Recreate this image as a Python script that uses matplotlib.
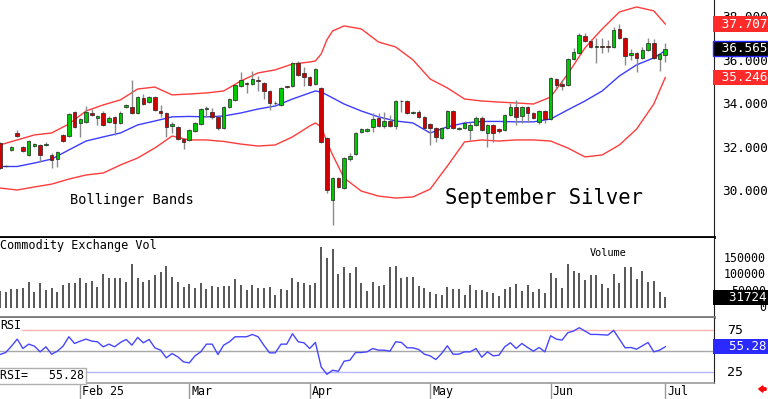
import numpy as np
import matplotlib.pyplot as plt
from matplotlib.patches import FancyArrow

# daily bars, Jan 13 .. Jul 1 (September silver)
opens = [32.24, 31.17, 31.92, 32.70, 32.06, 31.69, 32.10, 32.15, 32.17, 31.69,
         31.50, 32.61, 32.56, 33.66, 33.16, 33.20, 33.62, 33.39, 33.62, 33.20,
         33.44, 33.16, 33.89, 33.89, 33.62, 34.31, 34.12, 34.35, 33.71, 33.62,
         33.02, 32.97, 32.42, 32.38, 32.79, 33.11, 33.80, 33.66, 33.44, 32.93,
         33.89, 34.22, 34.86, 35.00, 34.95, 35.14, 35.00, 34.63, 34.06, 33.99,
         34.84, 34.86, 35.92, 35.46, 35.27, 34.95, 34.77, 32.47, 29.62, 30.63,
         30.17, 31.50, 31.73, 32.74, 32.79, 32.97, 33.39, 33.02, 33.25, 33.02,
         34.15, 34.17, 33.62, 33.66, 33.44, 33.11, 32.93, 32.47, 32.93, 33.71,
         32.88, 32.93, 32.84, 33.07, 33.39, 32.70, 33.07, 32.88, 32.84, 33.53,
         33.89, 33.48, 33.89, 33.62, 33.20, 33.71, 33.34, 35.18, 34.95, 34.91,
         36.10, 36.38, 37.16, 36.93, 36.65, 36.70, 36.70, 36.65, 37.48, 37.07,
         36.28, 36.38, 36.15, 36.52, 36.84, 36.10, 36.30]
highs = [32.30, 31.22, 32.10, 32.84, 32.10, 32.36, 32.22, 32.19, 32.28, 31.78,
         31.86, 32.64, 33.60, 33.70, 33.40, 33.94, 33.80, 33.52, 33.72, 33.50,
         33.50, 33.70, 34.04, 35.14, 34.40, 34.49, 34.40, 34.40, 33.99, 33.66,
         33.20, 33.02, 32.46, 32.90, 33.20, 33.85, 33.94, 33.85, 33.48, 33.94,
         34.30, 34.95, 35.50, 35.05, 35.55, 35.32, 35.05, 34.68, 34.18, 34.82,
         34.88, 35.96, 36.01, 35.73, 35.32, 35.69, 34.80, 32.50, 30.68, 30.68,
         31.60, 31.78, 32.75, 32.93, 32.95, 33.62, 33.62, 33.66, 33.53, 34.22,
         34.22, 34.22, 33.72, 33.76, 33.48, 33.15, 32.97, 32.97, 33.76, 33.76,
         32.97, 33.25, 33.20, 33.50, 33.48, 33.11, 33.11, 32.93, 33.57, 34.08,
         34.22, 33.94, 33.94, 33.66, 33.76, 33.76, 35.28, 35.23, 35.14, 36.15,
         36.61, 37.30, 37.30, 37.02, 37.07, 37.07, 36.98, 37.57, 37.71, 37.11,
         36.56, 36.42, 36.65, 37.07, 37.00, 36.38, 36.84]
lows = [31.05, 31.14, 31.88, 32.52, 31.84, 31.66, 32.06, 31.37, 32.12, 31.09,
        31.14, 32.30, 32.53, 32.94, 32.51, 33.16, 33.49, 33.07, 33.03, 33.15,
        32.61, 33.12, 33.85, 33.58, 33.58, 34.00, 34.06, 33.72, 33.44, 32.51,
        32.70, 32.37, 31.96, 32.34, 32.75, 33.06, 33.44, 33.34, 32.84, 32.88,
        33.85, 34.18, 34.80, 34.54, 34.92, 34.63, 34.26, 33.76, 34.00, 33.95,
        34.75, 34.82, 35.33, 34.86, 34.86, 34.90, 32.25, 29.95, 28.47, 30.17,
        30.13, 31.42, 31.68, 32.70, 32.74, 32.74, 32.97, 32.93, 32.97, 32.88,
        33.66, 33.57, 33.58, 33.40, 32.88, 32.15, 32.28, 32.43, 32.88, 32.88,
        32.84, 32.88, 32.38, 33.02, 32.79, 32.06, 32.29, 32.70, 32.79, 33.48,
        33.07, 33.16, 33.20, 33.34, 33.11, 33.16, 33.30, 34.77, 34.68, 34.86,
        36.06, 36.34, 36.88, 36.61, 35.92, 36.38, 36.42, 36.60, 37.02, 35.82,
        36.06, 35.50, 36.10, 36.47, 36.10, 35.55, 35.96]
closes = [31.09, 31.19, 32.06, 32.56, 31.87, 32.33, 32.19, 31.69, 32.21, 31.46,
          31.83, 32.33, 33.57, 32.97, 33.34, 33.66, 33.53, 33.48, 33.07, 33.39,
          33.16, 33.62, 33.98, 33.62, 34.35, 34.03, 34.35, 33.76, 33.62, 32.97,
          33.11, 32.42, 32.28, 32.84, 33.16, 33.80, 33.86, 33.44, 32.93, 33.89,
          34.26, 34.91, 35.14, 34.95, 35.18, 35.09, 34.63, 34.08, 34.10, 34.77,
          34.79, 35.92, 35.37, 35.27, 34.91, 35.64, 32.29, 30.08, 30.63, 30.21,
          31.55, 31.64, 32.70, 32.88, 32.88, 33.34, 33.02, 33.25, 33.02, 34.17,
          34.19, 33.62, 33.66, 33.44, 32.93, 32.93, 32.51, 32.93, 33.71, 32.93,
          32.93, 33.16, 33.07, 33.39, 32.84, 33.07, 32.70, 32.79, 33.53, 33.89,
          33.44, 33.89, 33.62, 33.39, 33.71, 33.34, 35.23, 34.91, 34.86, 36.10,
          36.42, 37.21, 36.93, 36.65, 36.70, 36.65, 36.65, 37.44, 37.07, 36.24,
          36.38, 36.15, 36.52, 36.84, 36.15, 36.33, 36.565]
volume = [50000, 47900, 56000, 56000, 58200, 78200, 46100, 73300, 53000, 60000,
          46100, 68200, 73300, 75100, 90300, 73300, 80300, 63000, 100600, 88500,
          90300, 90300, 78200, 130900, 90300, 78200, 83300, 98500, 108500, 126700,
          91500, 78200, 63000, 70300, 58200, 75100, 56000, 66100, 63000, 66100,
          66100, 85400, 68200, 53000, 68200, 58200, 58200, 61200, 37900, 55100,
          53000, 90300, 76400, 75100, 68200, 75100, 182400, 150900, 176300, 100600,
          123600, 105400, 121800, 75100, 50900, 76400, 66100, 68200, 123600, 126700,
          88500, 93300, 93300, 65100, 58200, 46100, 40000, 37900, 61200, 55100,
          55100, 37900, 68200, 53000, 53000, 47900, 44800, 35800, 56000, 63000,
          71200, 50000, 68200, 46100, 56000, 44800, 105400, 88500, 60000, 130900,
          110600, 105400, 83300, 98500, 98500, 71200, 60000, 100600, 75100, 122700,
          122700, 86400, 110600, 78200, 80300, 47900, 31724]
rsi = [46.0, 48.4, 56.0, 64.4, 53.2, 58.4, 56.0, 49.2, 55.2, 46.4,
       50.0, 56.0, 67.2, 59.2, 62.0, 64.4, 62.0, 61.2, 55.2, 58.4,
       55.2, 60.4, 64.0, 57.2, 66.4, 60.0, 64.0, 54.0, 51.2, 42.0,
       47.2, 43.2, 37.2, 36.0, 44.4, 49.2, 58.4, 58.4, 46.0, 57.2,
       61.2, 67.2, 67.2, 67.2, 70.0, 67.2, 57.2, 48.0, 48.0, 58.4,
       58.4, 70.8, 61.2, 60.0, 53.2, 60.4, 31.2, 22.4, 27.2, 26.0,
       38.0, 39.2, 48.4, 48.4, 49.2, 53.2, 51.2, 51.2, 50.0, 61.2,
       60.4, 54.0, 54.0, 52.0, 46.4, 44.4, 40.0, 47.2, 56.4, 46.4,
       46.4, 49.2, 49.2, 53.2, 42.8, 49.2, 44.4, 45.2, 55.2, 60.0,
       53.2, 59.2, 54.4, 50.0, 54.4, 49.2, 68.4, 64.4, 63.2, 72.0,
       74.0, 78.0, 74.0, 70.0, 70.0, 69.6, 69.2, 74.8, 64.4, 54.0,
       54.4, 52.4, 56.4, 60.4, 49.2, 51.2, 55.28]

# bollinger bands at these bars
bb_bars = [0, 3, 6, 9, 12, 15, 18, 21, 24, 27, 30, 33, 36, 39, 42, 45, 48, 51, 54, 55,
           56, 57, 58, 60, 63, 66, 69, 72, 75, 78, 81, 84, 87, 90, 93, 96, 99, 102, 105,
           108, 111, 114, 116]
bb_upper = [32.15, 32.38, 32.61, 32.70, 33.11, 33.71, 33.99, 34.22, 34.72, 34.81,
            34.45, 34.49, 34.54, 34.63, 35.09, 35.46, 35.60, 35.87, 35.96, 36.01,
            36.33, 36.98, 37.39, 37.62, 37.48, 36.88, 36.65, 36.06, 35.18, 34.77,
            34.26, 34.17, 34.12, 34.08, 34.03, 34.35, 35.41, 36.61, 37.48, 38.26,
            38.49, 38.31, 37.707]
bb_mid = [31.16, 31.16, 31.32, 31.50, 31.92, 32.33, 32.52, 32.70, 33.07, 33.25,
          33.44, 33.46, 33.44, 33.48, 33.62, 33.80, 33.94, 34.26, 34.54, 34.63,
          34.58, 34.45, 34.31, 34.03, 33.71, 33.44, 33.25, 33.16, 32.70, 32.98,
          33.16, 33.23, 33.23, 33.21, 33.21, 33.34, 33.76, 34.17, 34.63, 35.32,
          35.83, 36.15, 36.48]
bb_lower = [30.17, 30.08, 30.22, 30.35, 30.58, 30.77, 30.86, 31.23, 31.55, 32.01,
            32.56, 32.38, 32.38, 32.31, 32.19, 32.10, 32.15, 32.52, 33.02, 33.16,
            32.98, 32.29, 31.69, 30.63, 30.03, 29.80, 29.71, 29.76, 30.12, 31.18,
            32.29, 32.38, 32.33, 32.38, 32.38, 32.33, 32.01, 31.60, 31.69, 32.15,
            32.88, 34.03, 35.246]

month_bars = [14, 33, 54, 75, 96, 116]
month_labels = ["Feb 25", "Mar", "Apr", "May", "Jun", "Jul"]
price_ticks = [30, 32, 34, 36, 38]
vol_ticks = [0, 50000, 100000, 150000]
rsi_ticks = [25, 75]

MONO = "DejaVu Sans Mono"
GREEN = "#00c800"
RED = "#d00000"

days = np.arange(len(closes))
o = np.array(opens)
c = np.array(closes)

fig = plt.figure(figsize=(7.68, 3.99), dpi=100)
ax_p = fig.add_axes([0, 0.406, 0.9297, 0.594])
ax_v = fig.add_axes([0, 0.2055, 0.9297, 0.198])
ax_r = fig.add_axes([0, 0.0401, 0.9297, 0.1629])

for ax in (ax_p, ax_v, ax_r):
    ax.set_xlim(0, 124.5)
    ax.set_xticks([])
    ax.set_yticks([])
    for s in ax.spines.values():
        s.set_visible(False)
    ax.spines["right"].set_visible(True)
    ax.spines["right"].set_color("#202020")
    ax.spines["bottom"].set_visible(True)

ax_p.spines["bottom"].set_linewidth(2)
ax_p.spines["bottom"].set_color("black")
ax_v.spines["bottom"].set_linewidth(2)
ax_v.spines["bottom"].set_color("#7a7a7a")
ax_r.spines["bottom"].set_linewidth(1.2)
ax_r.spines["bottom"].set_color("#9a9a9a")


def right_text(ax, y, txt, x=1.011, size=9.2, ha="left", **kw):
    ax.text(x, y, txt, transform=ax.get_yaxis_transform(), ha=ha, va="center",
            family=MONO, fontsize=size, clip_on=False, **kw)


# price panel
ax_p.vlines(days, lows, highs, color="#8a8a8a", lw=1, zorder=2)
ax_p.bar(days, np.abs(c - o), bottom=np.minimum(o, c), width=0.62,
         color=np.where(c >= o, GREEN, RED), edgecolor="#222222", linewidth=0.5, zorder=3)
ax_p.plot(bb_bars, bb_upper, color="#ff3c3c", lw=1, zorder=1)
ax_p.plot(bb_bars, bb_lower, color="#ff3c3c", lw=1, zorder=1)
ax_p.plot(bb_bars, bb_mid, color="#3c3cff", lw=1, zorder=1)
ax_p.set_ylim(27.92, 38.81)

for t in price_ticks:
    right_text(ax_p, t, "%.3f" % t)
right_text(ax_p, bb_upper[-1], " %.3f" % bb_upper[-1], x=1.0, color="white", zorder=10,
           bbox=dict(boxstyle="square,pad=0.08", fc="#ff2a2a", ec="none"))
right_text(ax_p, closes[-1], " %.3f" % closes[-1], x=1.0, color="white", zorder=10,
           bbox=dict(boxstyle="square,pad=0.08", fc="black", ec="#2a2aff", lw=1))
right_text(ax_p, bb_lower[-1], " %.3f" % bb_lower[-1], x=1.0, color="white", zorder=10,
           bbox=dict(boxstyle="square,pad=0.08", fc="#ff2a2a", ec="none"))

ax_p.text(0.098, 0.156, "Bollinger Bands", transform=ax_p.transAxes, family=MONO,
          fontsize=9.8, va="center")
ax_p.text(0.623, 0.165, "September Silver", transform=ax_p.transAxes, family=MONO,
          fontsize=14.8, va="center")

# volume panel
ax_v.vlines(days, 0, volume, color="#3a3a3a", lw=1.2)
ax_v.set_ylim(-28800, 210600)
for t in vol_ticks:
    right_text(ax_v, t, str(t), x=1.0728, size=8.4, ha="right")
right_text(ax_v, volume[-1], "  %d" % volume[-1], x=1.0, size=9, color="white", zorder=10,
           bbox=dict(boxstyle="square,pad=0.08", fc="black", ec="none"))
ax_v.text(0.0, 0.91, "Commodity Exchange Vol", transform=ax_v.transAxes, family=MONO,
          fontsize=8.5, va="center")
ax_v.text(0.826, 0.81, "Volume", transform=ax_v.transAxes, family=MONO,
          fontsize=7.4, va="center")

# rsi panel
ax_r.axhline(75, color="#ffb4b4", lw=1, zorder=1)
ax_r.axhline(50, color="#a8a8a8", lw=1, zorder=1)
ax_r.axhline(25, color="#b4b4ff", lw=1, zorder=1)
ax_r.plot(days, rsi, color="#4646ff", lw=1, zorder=3)
ax_r.set_ylim(12.0, 89.6)
for t in rsi_ticks:
    right_text(ax_r, t, str(t), x=1.0182, size=9.5)
right_text(ax_r, rsi[-1], "  %.2f" % rsi[-1], x=1.0, size=9, color="white", zorder=10,
           bbox=dict(boxstyle="square,pad=0.08", fc="#2a2aff", ec="none"))
ax_r.text(0.0, 0.877, "RSI", transform=ax_r.transAxes, family=MONO, fontsize=8.4,
          va="center", bbox=dict(boxstyle="square,pad=0.1", fc="white", ec="none"), zorder=5)
ax_r.text(0.0, 0.108, "RSI=   %.2f" % rsi[-1], transform=ax_r.transAxes, family=MONO,
          fontsize=8.4, va="center", zorder=5,
          bbox=dict(boxstyle="square,pad=0.15", fc="white", ec="#b0b0b0", lw=1))

# month ticks under the rsi panel
ax_r.vlines(month_bars, -0.25, 0, transform=ax_r.get_xaxis_transform(), color="#999999",
            lw=1, clip_on=False)
for b, lab in zip(month_bars, month_labels):
    ax_r.text(b + 0.35, -0.125, lab, transform=ax_r.get_xaxis_transform(), family=MONO,
              fontsize=8.4, va="center", ha="left")

fig.add_artist(FancyArrow(0.9974, 0.025, -0.0095, 0, width=0.006, head_width=0.016,
                          head_length=0.0055, length_includes_head=True,
                          transform=fig.transFigure, color="red"))

fig.savefig("out.png", dpi=100)
